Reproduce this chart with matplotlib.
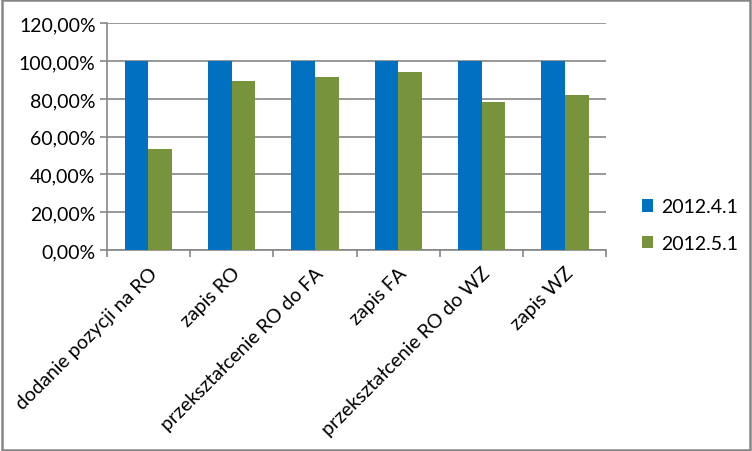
import matplotlib.pyplot as plt
from matplotlib.patches import Rectangle
from matplotlib.ticker import FuncFormatter, MultipleLocator
import numpy as np

# Data
categories = ["dodanie pozycji na RO", "zapis RO", "przekształcenie RO do FA",
              "zapis FA", "przekształcenie RO do WZ", "zapis WZ"]
series_names = ["2012.4.1", "2012.5.1"]
values_2012_4_1 = [100, 100, 100, 100, 100, 100]
values_2012_5_1 = [53.3, 89.7, 91.8, 94.4, 78.6, 81.8]

colors = ["#0070C0", "#77933C"]
grid_color = "#868686"

plt.rcParams['font.family'] = ['Lato', 'DejaVu Sans']

fig = plt.figure(figsize=(7.52, 4.52), dpi=100)
ax = fig.add_axes([0.1419, 0.4447, 0.8065 - 0.1419, 0.9462 - 0.4447])

x = np.arange(len(categories))
w = 0.285
ax.bar(x - w / 2, values_2012_4_1, width=w, color=colors[0], label=series_names[0], zorder=3)
ax.bar(x + w / 2, values_2012_5_1, width=w, color=colors[1], label=series_names[1], zorder=3)

ax.set_ylim(0, 120)
ax.set_xlim(-0.5, len(categories) - 0.5)
ax.yaxis.set_major_locator(MultipleLocator(20))
ax.yaxis.set_major_formatter(FuncFormatter(lambda v, p: f"{v:.2f}%".replace(".", ",")))
ax.grid(axis='y', color=grid_color, linewidth=1.2, zorder=0)

for s in ['top', 'right']:
    ax.spines[s].set_visible(False)
for s in ['left', 'bottom']:
    ax.spines[s].set_color(grid_color)
    ax.spines[s].set_linewidth(1.2)

ax.set_xticks(x)
ax.set_xticklabels(categories, rotation=45, ha='right', rotation_mode='anchor', fontsize=14)
ax.tick_params(axis='x', length=0, pad=10)
ax.set_xticks(np.arange(len(categories) + 1) - 0.5, minor=True)
ax.tick_params(axis='x', which='minor', length=5, color=grid_color, width=1.2)
ax.tick_params(axis='y', length=5, color=grid_color, width=1.2, labelsize=14, pad=3)

ax.legend(loc='center left', bbox_to_anchor=(0.83, 0.5), bbox_transform=fig.transFigure,
          frameon=False, fontsize=14, handlelength=0.6, handleheight=0.6,
          handletextpad=0.4, labelspacing=1.0)

fig.patches.append(Rectangle((0.002, 0.003), 0.995, 0.994, transform=fig.transFigure,
                             fill=False, edgecolor="#868686", linewidth=1.8))

fig.savefig("out.png", dpi=100)
